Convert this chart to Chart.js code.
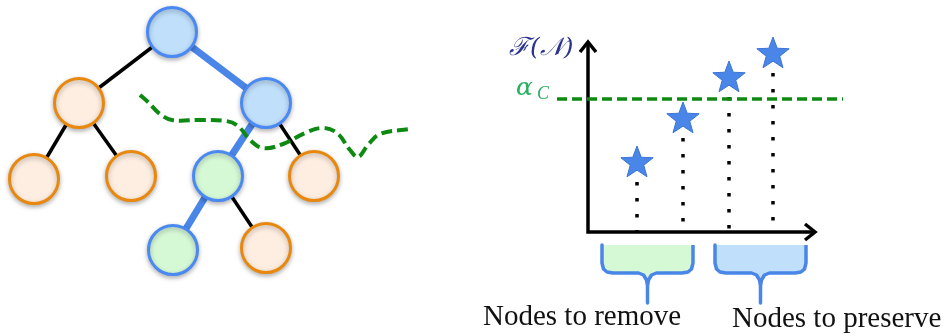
<!DOCTYPE html>
<html>
<head>
<meta charset="utf-8">
<script src="https://cdn.jsdelivr.net/npm/chart.js@4.4.0/dist/chart.umd.min.js"></script>
<style>
html, body { margin: 0; padding: 0; background: #fff; }
#wrap { width: 946px; height: 336px; }
</style>
</head>
<body>
<div id="wrap"><canvas id="diagram" width="946" height="336"></canvas></div>
<script>
// --- tree (left panel) ---
var nodeX = [172, 79, 266, 34, 131, 218, 314, 173, 266];
var nodeY = [32, 103, 103, 179, 176, 176, 176, 250, 248];
var nodeKind = ["path", "drop", "path", "drop", "drop", "keep", "drop", "keep", "drop"];
var edgeFrom = [0, 0, 1, 1, 2, 2, 5, 5];
var edgeTo = [1, 2, 3, 4, 5, 6, 7, 8];
var edgeKind = ["plain", "path", "plain", "plain", "path", "plain", "path", "plain"];

// green cut curve through the tree
var cutX = [140, 148, 160, 172, 200, 226, 238, 250, 263, 283, 305, 322, 337, 350, 358, 368, 380, 410];
var cutY = [95, 102, 114, 120, 120, 121, 126, 140, 148, 144, 133, 128, 133, 150, 157, 145, 134, 129];

// --- score plot (right panel) ---
var starX = [637, 683, 729, 773];
var starY = [162, 118, 77, 53];
var axisX = [588, 588, 815];
var axisY = [42, 232, 232];
var alphaY = 99;
var alphaFrom = 557, alphaTo = 843;
var groupLabels = ["Nodes to remove", "Nodes to preserve"];
var groupLeft = [602, 715];
var groupRight = [693, 806];
var groupTextX = [483, 732];

var fillColor = { path: "#bfdffb", drop: "#fdeee1", keep: "#d5f8d5" };
var strokeColor = { path: "#4a88f2", drop: "#e8880f", keep: "#4a88f2" };
var blue = "#4a86e8";
var green = "#0e8a12";

// filled star image for the point style
function makeStar(r) {
    var c = document.createElement("canvas");
    c.width = c.height = r * 2 + 4;
    var g = c.getContext("2d");
    g.translate(r + 2, r + 3);
    g.beginPath();
    for (var i = 0; i < 10; i++) {
        var rad = i % 2 === 0 ? r : r * 0.42;
        var a = -Math.PI / 2 + i * Math.PI / 5;
        g.lineTo(Math.cos(a) * rad, Math.sin(a) * rad);
    }
    g.closePath();
    g.fillStyle = blue;
    g.fill();
    g.strokeStyle = "#3b74d4";
    g.lineWidth = 1;
    g.stroke();
    return c;
}
var starImg = makeStar(17);

var datasets = [];

// nodes
datasets.push({
    type: "scatter",
    order: 0,
    data: nodeX.map(function (x, i) { return { x: x, y: nodeY[i] }; }),
    pointRadius: 24.5,
    pointHoverRadius: 24.5,
    borderWidth: 3,
    pointBackgroundColor: nodeKind.map(function (k) { return fillColor[k]; }),
    pointBorderColor: nodeKind.map(function (k) { return strokeColor[k]; }),
});

// cut curve
datasets.push({
    type: "line",
    order: 2,
    data: cutX.map(function (x, i) { return { x: x, y: cutY[i] }; }),
    borderColor: green,
    borderWidth: 4,
    borderDash: [11, 5],
    tension: 0.4,
    pointRadius: 0,
    fill: false,
});

// edges
edgeFrom.forEach(function (f, i) {
    var t = edgeTo[i];
    datasets.push({
        type: "line",
        order: 4,
        data: [{ x: nodeX[f], y: nodeY[f] }, { x: nodeX[t], y: nodeY[t] }],
        borderColor: edgeKind[i] === "path" ? blue : "#000",
        borderWidth: edgeKind[i] === "path" ? 7 : 3.5,
        pointRadius: 0,
        fill: false,
    });
});

// stars
datasets.push({
    type: "scatter",
    order: 1,
    data: starX.map(function (x, i) { return { x: x, y: starY[i] }; }),
    pointStyle: starImg,
});

// threshold line
datasets.push({
    type: "line",
    order: 2,
    data: [{ x: alphaFrom, y: alphaY }, { x: alphaTo, y: alphaY }],
    borderColor: green,
    borderWidth: 3.5,
    borderDash: [10, 5],
    pointRadius: 0,
});

// dotted drop lines
starX.forEach(function (x, i) {
    datasets.push({
        type: "line",
        order: 3,
        data: [{ x: x, y: starY[i] + 20 }, { x: x, y: axisY[1] }],
        borderColor: "#000",
        borderWidth: 3.5,
        borderDash: [3.5, 12.5],
        pointRadius: 0,
    });
});

// axes with arrow heads
datasets.push({
    type: "line",
    order: 3,
    data: axisX.map(function (x, i) { return { x: x, y: axisY[i] }; }),
    borderColor: "#000",
    borderWidth: 3.5,
    pointRadius: 0,
});
datasets.push({
    type: "line",
    order: 3,
    data: [{ x: axisX[0] - 8, y: axisY[0] + 10 }, { x: axisX[0], y: axisY[0] }, { x: axisX[0] + 8, y: axisY[0] + 10 }],
    borderColor: "#000",
    borderWidth: 3.5,
    pointRadius: 0,
});
datasets.push({
    type: "line",
    order: 3,
    data: [{ x: axisX[2] - 10, y: axisY[2] - 8 }, { x: axisX[2], y: axisY[2] }, { x: axisX[2] - 10, y: axisY[2] + 8 }],
    borderColor: "#000",
    borderWidth: 3.5,
    pointRadius: 0,
});

// braces under the groups
function bracePoints(l, r) {
    var top = 245, bot = 273, tip = 303, m = (l + r) / 2;
    return [
        { x: l, y: top }, { x: l, y: 263 }, { x: l + 1.5, y: 269 }, { x: l + 5, y: 272 }, { x: l + 11, y: bot },
        { x: m - 9, y: bot }, { x: m - 4, y: bot + 2 }, { x: m - 1, y: bot + 7 }, { x: m, y: bot + 13 }, { x: m, y: tip },
        { x: m, y: bot + 13 }, { x: m + 1, y: bot + 7 }, { x: m + 4, y: bot + 2 }, { x: m + 9, y: bot },
        { x: r - 11, y: bot }, { x: r - 5, y: 272 }, { x: r - 1.5, y: 269 }, { x: r, y: 263 }, { x: r, y: top }
    ];
}
var braceFill = ["#d5f8d5", "#bfdffb"];
groupLeft.forEach(function (l, i) {
    datasets.push({
        type: "line",
        order: 3,
        data: bracePoints(l, groupRight[i]),
        borderColor: blue,
        borderWidth: 3.5,
        backgroundColor: braceFill[i],
        fill: { value: 245 },
        pointRadius: 0,
        borderJoinStyle: "round",
    });
});

// soft drop shadow under the tree nodes
var shadowPlugin = {
    id: "nodeShadow",
    beforeDatasetDraw: function (chart, args) {
        if (args.index !== 0) return;
        chart.ctx.save();
        chart.ctx.shadowColor = "rgba(0,0,0,0.28)";
        chart.ctx.shadowBlur = 5;
        chart.ctx.shadowOffsetY = 2;
    },
    afterDatasetDraw: function (chart, args) {
        if (args.index !== 0) return;
        chart.ctx.restore();
    }
};

// text labels
var textPlugin = {
    id: "texts",
    afterDraw: function (chart) {
        var c = chart.ctx, xs = chart.scales.x, ys = chart.scales.y;
        c.save();
        c.textBaseline = "alphabetic";
        c.fillStyle = "#111";
        c.font = "29px 'Liberation Serif'";
        groupLabels.forEach(function (t, i) {
            c.fillText(t, xs.getPixelForValue(groupTextX[i]), ys.getPixelForValue(325 + i * 2));
        });
        c.fillStyle = "#2b3590";
        c.font = "italic 25px 'DejaVu Serif'";
        c.fillText("\u2131(\ud835\udca9)", xs.getPixelForValue(509), ys.getPixelForValue(55));
        c.fillStyle = "#2aae62";
        c.font = "italic 25px 'DejaVu Serif'";
        c.fillText("\u03b1", xs.getPixelForValue(516), ys.getPixelForValue(95));
        c.font = "italic 18px 'Liberation Serif'";
        c.fillText("C", xs.getPixelForValue(537), ys.getPixelForValue(99));
        c.restore();
    }
};

new Chart(document.getElementById("diagram"), {
    data: { datasets: datasets },
    options: {
        responsive: false,
        animation: false,
        events: [],
        layout: { padding: 0, autoPadding: false },
        scales: {
            x: { type: "linear", display: false, min: 0, max: 946 },
            y: { type: "linear", display: false, min: 0, max: 336, reverse: true },
        },
        plugins: {
            legend: { display: false },
            tooltip: { enabled: false },
        },
    },
    plugins: [shadowPlugin, textPlugin],
});
</script>
</body>
</html>
